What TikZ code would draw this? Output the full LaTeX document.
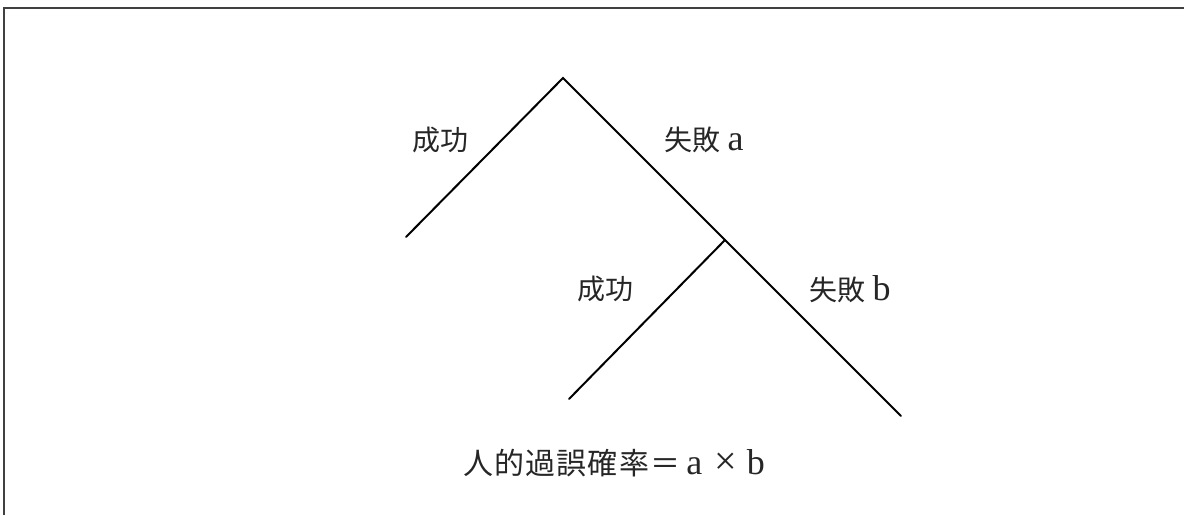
\documentclass[tikz,border=0pt]{standalone}
\usepackage{fontspec}
\setmainfont{Liberation Serif}
\newfontfamily\cjk[LetterSpace=4]{Noto Sans CJK JP}
\newfontfamily\cjkplain{Noto Sans CJK JP}
\newcommand\latn[1]{{\fontsize{36}{36}\selectfont #1}}
\begin{document}
\begin{tikzpicture}[x=1pt,y=-1pt,
  branchline/.style={line width=2pt,line cap=round},
  frameline/.style={line width=1.4pt,black!75},
  lbl/.style={font=\fontsize{28}{30}\selectfont,inner sep=0pt,text=black!85}]
\useasboundingbox (0,0) rectangle (1184,515);
% partial frame
\coordinate (fTL) at (4,8);
\coordinate (fTR) at (1184,8);
\coordinate (fBL) at (4,515);
\draw[frameline] (fBL) -- (fTL) -- (fTR);
% tree
\coordinate (apex) at (563,78);
\coordinate (leftend) at (406,237);
\coordinate (rightend) at (901,416);
\coordinate (branch) at (725,240);
\coordinate (bleft) at (569,399);
\draw[branchline] (leftend) -- (apex) -- (rightend);
\draw[branchline] (branch) -- (bleft);
% labels
\node[lbl] (s1) at (440,140) {\cjkplain 成功};
\node[lbl] (f1) at (704,140) {{\cjkplain 失敗}\hspace{7pt}\latn{a}};
\node[lbl] (s2) at (605,289) {\cjkplain 成功};
\node[lbl] (f2) at (850,289) {{\cjkplain 失敗}\hspace{7pt}\latn{b}};
\node[lbl,font=\fontsize{30}{32}\selectfont] (res) at (614,463) {{\cjk 人的過誤確率＝}\hspace{6pt}\latn{a}\hspace{12pt}{\fontsize{40}{40}\selectfont ×}\hspace{10pt}\latn{b}};
\end{tikzpicture}
\end{document}
